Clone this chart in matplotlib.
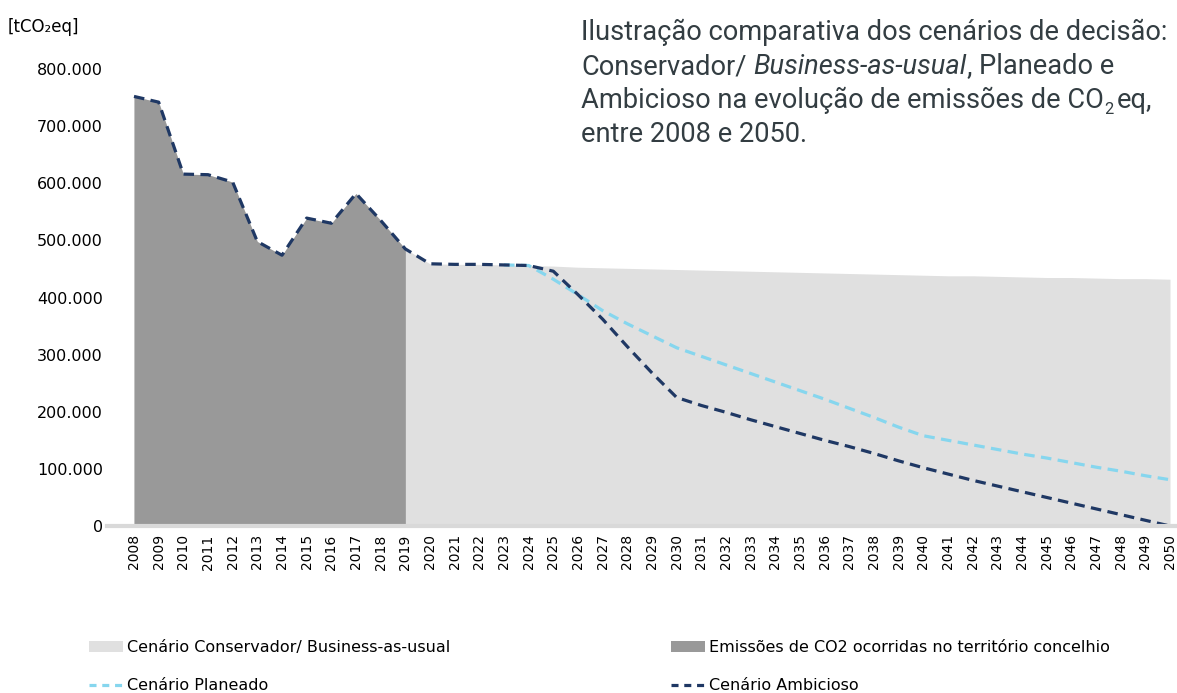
import numpy as np
import matplotlib
matplotlib.use("Agg")
import matplotlib.pyplot as plt
from matplotlib.patches import Patch
from matplotlib.lines import Line2D
from matplotlib.ticker import FuncFormatter

# dados (tCO2eq)
anos = list(range(2008, 2051))
historico = [752000, 742000, 616000, 615000, 602000, 498000, 474000,
             539000, 530000, 582000, 535000, 485000]          # 2008-2019
conservador_proj = [459000, 458000, 458000, 457000, 456000, 455000,   # 2020-2025
                    453000, 452000, 451000, 450000, 449000,           # 2026-2030
                    448000, 447000, 446000, 445000, 444000,
                    443000, 442000, 441000, 440000, 439000,           # ...2040
                    438000, 438000, 437000, 436000, 435000,
                    435000, 434000, 433000, 433000, 432000]           # ...2050
ambicioso_proj = [459000, 458000, 458000, 457000, 456000, 446000,     # 2020-2025
                  405000, 362000, 314000, 268000, 225000,             # 2026-2030
                  211000, 199000, 186000, 174000, 162000,
                  150000, 139000, 127000, 114000, 102000,             # ...2040
                  91000, 80000, 70000, 60000, 50000,
                  40000, 30000, 20000, 10000, 0]                      # ...2050
anos_planeado = list(range(2023, 2051))
planeado = [457000, 456000, 432000, 405000, 377000, 354000, 333000, 312000,   # 2023-2030
            297000, 282000, 267000, 252000, 237000,
            222000, 206000, 190000, 173000, 158000,                   # ...2040
            150000, 142000, 134000, 126000, 119000,
            111000, 103000, 96000, 88000, 81000]                      # ...2050

anos_hist = anos[:len(historico)]
conservador = historico + conservador_proj
ambicioso = historico + ambicioso_proj

cinza_claro = "#e0e0e0"
cinza_escuro = "#999999"
azul_escuro = "#1f3864"
azul_claro = "#86d6ee"

fig = plt.figure(figsize=(11.77, 6.93), dpi=100)
ax = fig.add_axes([107 / 1177, 1 - 526 / 693, 1070 / 1177, (526 - 69) / 693])

ax.fill_between(anos, 0, conservador, color=cinza_claro, lw=0, zorder=1)
ax.fill_between(anos_hist, 0, historico, color=cinza_escuro, lw=0, zorder=2)
ax.plot(anos_planeado, planeado, color=azul_claro, lw=2.3, dashes=(3.3, 2), zorder=3)
ax.plot(anos, ambicioso, color=azul_escuro, lw=2.3, dashes=(3.3, 2), zorder=4)

ax.set_xlim(2008 - 27 / 24.67, 2050 + 7 / 24.67)
ax.set_ylim(0, 800000)
ax.set_xticks(anos)
ax.set_xticklabels([str(a) for a in anos], rotation=90, fontsize=10)
ax.set_yticks(np.arange(0, 800001, 100000))
ax.yaxis.set_major_formatter(FuncFormatter(lambda v, p: f"{int(v):,}".replace(",", ".")))
ax.tick_params(axis="y", length=0, pad=3, labelsize=11.5)
ax.tick_params(axis="x", length=0, pad=6)
for s in ["top", "right", "left"]:
    ax.spines[s].set_visible(False)
ax.spines["bottom"].set_color("#d9d9d9")
ax.spines["bottom"].set_linewidth(3)
ax.spines["bottom"].set_zorder(5)
ax.set_facecolor("none")

fig.text(8 / 1177, 1 - 27 / 693, "[tCO\u2082eq]", fontsize=12, va="center", ha="left")

# titulo com partes em italico e subscrito
renderer = fig.canvas.get_renderer()
cor_titulo = "#333d42"
tam = 19.6


def largura(txt, **kw):
    t = fig.text(0, 0, txt, fontsize=tam, family="Roboto", **kw)
    w = t.get_window_extent(renderer).width
    t.remove()
    return w


esp = largura("a a") - largura("aa")


def linha(partes, x0, yb):
    x = x0
    for txt, kw in partes:
        kw = dict(kw)
        dy = kw.pop("dy", 0)
        size = kw.pop("size", tam)
        t = fig.text(x / 1177, 1 - (yb + dy) / 693, txt, fontsize=size,
                     family="Roboto", color=cor_titulo, va="baseline", ha="left", **kw)
        x += t.get_window_extent(renderer).width
    return x


x0 = 581
fig.text(x0 / 1177, 1 - 40 / 693, "Ilustração comparativa dos cenários de decisão:",
         fontsize=tam, family="Roboto", color=cor_titulo, va="baseline", ha="left")
x = linha([("Conservador/", {})], x0, 74)
x = linha([("Business-as-usual", {"style": "italic"})], x + esp, 74)
x = linha([(",", {})], x, 74)
linha([("Planeado e", {})], x + esp, 74)
x = linha([("Ambicioso na evolução de emissões de CO", {})], x0, 108)
x = linha([("2", {"size": tam * 0.6, "dy": 6})], x, 108)
linha([("eq,", {})], x + esp * 0.6, 108)
fig.text(x0 / 1177, 1 - 142 / 693, "entre 2008 e 2050.",
         fontsize=tam, family="Roboto", color=cor_titulo, va="baseline", ha="left")

# legenda em duas colunas
h_cons = Patch(facecolor=cinza_claro, edgecolor="none")
h_hist = Patch(facecolor=cinza_escuro, edgecolor="none")
h_plan = Line2D([], [], color=azul_claro, lw=2.3, dashes=(2.2, 1.8))
h_amb = Line2D([], [], color=azul_escuro, lw=2.3, dashes=(2.2, 1.8))
kw_leg = dict(frameon=False, fontsize=11.5, handlelength=2.1, handleheight=0.65,
              handletextpad=0.25, labelspacing=1.46, borderaxespad=0, borderpad=0)
leg1 = fig.legend([h_cons, h_plan], ["Cenário Conservador/ Business-as-usual", "Cenário Planeado"],
                  loc="upper left", bbox_to_anchor=(89 / 1177, 1 - 640 / 693), **kw_leg)
leg2 = fig.legend([h_hist, h_amb], ["Emissões de CO2 ocorridas no território concelhio", "Cenário Ambicioso"],
                  loc="upper left", bbox_to_anchor=(671 / 1177, 1 - 640 / 693), **kw_leg)

fig.savefig("out.png", dpi=100, facecolor="white")
